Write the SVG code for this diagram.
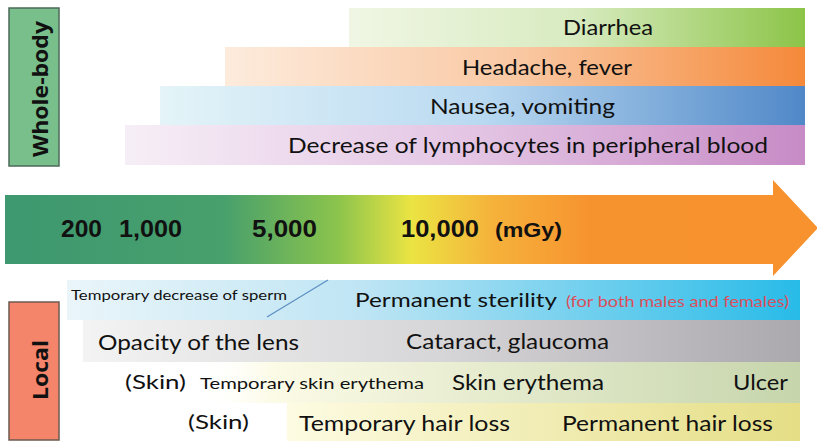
<svg xmlns="http://www.w3.org/2000/svg" width="817" height="441" viewBox="0 0 817 441">
<defs>
<style>
.t{font-family:Lato,"Open Sans","Liberation Sans",sans-serif;fill:#111}
.n{font-family:"Liberation Sans",Arial,sans-serif;font-weight:bold;fill:#111}
.lbl{font-family:"Open Sans","Liberation Sans",sans-serif;font-weight:bold;fill:#111;font-size:21px}
</style>
<linearGradient id="gD" x1="0" x2="1"><stop offset="0" stop-color="#f0f6e4"/><stop offset="0.5" stop-color="#d8ebc0"/><stop offset="1" stop-color="#8cc448"/></linearGradient>
<linearGradient id="gH" x1="0" x2="1"><stop offset="0" stop-color="#fdebdc"/><stop offset="0.5" stop-color="#f9c9a4"/><stop offset="1" stop-color="#f5893a"/></linearGradient>
<linearGradient id="gN" x1="0" x2="1"><stop offset="0" stop-color="#e4f4f8"/><stop offset="0.5" stop-color="#b9d9f1"/><stop offset="1" stop-color="#5088c8"/></linearGradient>
<linearGradient id="gL" x1="0" x2="1"><stop offset="0" stop-color="#f6eef6"/><stop offset="0.5" stop-color="#e4c6e4"/><stop offset="1" stop-color="#c78bc6"/></linearGradient>
<linearGradient id="gA" x1="0" x2="1"><stop offset="0" stop-color="#3e9870"/><stop offset="0.27" stop-color="#48a06c"/><stop offset="0.41" stop-color="#8cc44c"/><stop offset="0.5" stop-color="#ebe443"/><stop offset="0.6" stop-color="#f5b23b"/><stop offset="0.72" stop-color="#f7932f"/><stop offset="1" stop-color="#f7922f"/></linearGradient>
<linearGradient id="gS" x1="0" x2="1"><stop offset="0" stop-color="#eaf5fa"/><stop offset="0.4" stop-color="#bfe5f4"/><stop offset="1" stop-color="#28bbe8"/></linearGradient>
<linearGradient id="gO" x1="0" x2="1"><stop offset="0" stop-color="#f3f3f3"/><stop offset="0.5" stop-color="#d6d5d7"/><stop offset="1" stop-color="#aba8ae"/></linearGradient>
<linearGradient id="gE" x1="0" x2="1"><stop offset="0" stop-color="#ffffff" stop-opacity="0"/><stop offset="0.12" stop-color="#fcfbe6"/><stop offset="1" stop-color="#c6d5ac"/></linearGradient>
<linearGradient id="gR" x1="0" x2="1"><stop offset="0" stop-color="#fdfbe2"/><stop offset="1" stop-color="#e5de86"/></linearGradient>
</defs>
<rect width="817" height="441" fill="#ffffff"/>

<g id="whole-body">
<rect x="9" y="8" width="50" height="158" fill="#78bf8b" stroke="#4b6a58" stroke-width="1.5"/>
<text class="lbl" transform="translate(48,89) rotate(-90)" text-anchor="middle" textLength="136" lengthAdjust="spacingAndGlyphs">Whole-body</text>
</g>

<g id="diarrhea">
<rect x="349" y="8" width="456" height="39" fill="url(#gD)"/>
<text class="t" x="563" y="35" font-size="21" textLength="90" lengthAdjust="spacingAndGlyphs">Diarrhea</text>
</g>
<g id="headache">
<rect x="225" y="47" width="580" height="39" fill="url(#gH)"/>
<text class="t" x="462" y="75" font-size="21" textLength="170" lengthAdjust="spacingAndGlyphs">Headache, fever</text>
</g>
<g id="nausea">
<rect x="160" y="86" width="645" height="39" fill="url(#gN)"/>
<text class="t" x="430" y="114" font-size="21" textLength="185" lengthAdjust="spacingAndGlyphs">Nausea, vomiting</text>
</g>
<g id="lymphocytes">
<rect x="125" y="125" width="680" height="40" fill="url(#gL)"/>
<text class="t" x="288" y="153" font-size="21" textLength="480" lengthAdjust="spacingAndGlyphs">Decrease of lymphocytes in peripheral blood</text>
</g>

<g id="dose-arrow">
<path d="M5,195 L773,195 L773,180 L818,228 L773,276 L773,264 L5,264 Z" fill="url(#gA)"/>
<text class="n" x="61" y="237" font-size="23" textLength="41" lengthAdjust="spacingAndGlyphs">200</text>
<text class="n" x="119" y="237" font-size="23" textLength="63" lengthAdjust="spacingAndGlyphs">1,000</text>
<text class="n" x="252" y="237" font-size="23" textLength="65" lengthAdjust="spacingAndGlyphs">5,000</text>
<text class="n" x="401" y="237" font-size="23" textLength="78" lengthAdjust="spacingAndGlyphs">10,000</text>
<text class="n" x="495" y="237" font-size="20" textLength="67" lengthAdjust="spacingAndGlyphs">(mGy)</text>
</g>

<g id="local">
<rect x="9" y="302" width="50" height="138" fill="#f4856a" stroke="#6d5a50" stroke-width="1.5"/>
<text class="lbl" transform="translate(48,370) rotate(-90)" text-anchor="middle" textLength="60" lengthAdjust="spacingAndGlyphs">Local</text>
</g>

<g id="sterility">
<rect x="67" y="280" width="733" height="40" fill="url(#gS)"/>
<text class="t" x="71" y="300" font-size="14" textLength="216" lengthAdjust="spacingAndGlyphs">Temporary decrease of sperm</text>
<text class="t" x="355" y="307" font-size="20" textLength="202" lengthAdjust="spacingAndGlyphs">Permanent sterility</text>
<text class="t" x="566" y="307" font-size="15" style="fill:#dc4f5c" textLength="223" lengthAdjust="spacingAndGlyphs">(for both males and females)</text>
</g>

<g id="lens">
<rect x="83" y="320" width="717" height="42" fill="url(#gO)"/>
<text class="t" x="98" y="350" font-size="21" textLength="201" lengthAdjust="spacingAndGlyphs">Opacity of the lens</text>
<text class="t" x="406" y="349" font-size="21" textLength="203" lengthAdjust="spacingAndGlyphs">Cataract, glaucoma</text>
</g>

<g id="erythema">
<rect x="200" y="362" width="600" height="41" fill="url(#gE)"/>
<text class="t" x="125" y="389" font-size="20" textLength="61" lengthAdjust="spacingAndGlyphs">(Skin)</text>
<text class="t" x="200" y="389" font-size="15" textLength="224" lengthAdjust="spacingAndGlyphs">Temporary skin erythema</text>
<text class="t" x="452" y="390" font-size="21" textLength="152" lengthAdjust="spacingAndGlyphs">Skin erythema</text>
<text class="t" x="733" y="390" font-size="21" textLength="55" lengthAdjust="spacingAndGlyphs">Ulcer</text>
</g>

<g id="hair-loss">
<rect x="287" y="403" width="513" height="38" fill="url(#gR)"/>
<text class="t" x="188" y="429" font-size="20" textLength="61" lengthAdjust="spacingAndGlyphs">(Skin)</text>
<text class="t" x="299" y="431" font-size="21" textLength="211" lengthAdjust="spacingAndGlyphs">Temporary hair loss</text>
<text class="t" x="562" y="431" font-size="21" textLength="211" lengthAdjust="spacingAndGlyphs">Permanent hair loss</text>
</g>

<g id="connectors">
<line x1="267" y1="317" x2="328" y2="280" stroke="#5c8fc2" stroke-width="1.2"/>
</g>
</svg>
